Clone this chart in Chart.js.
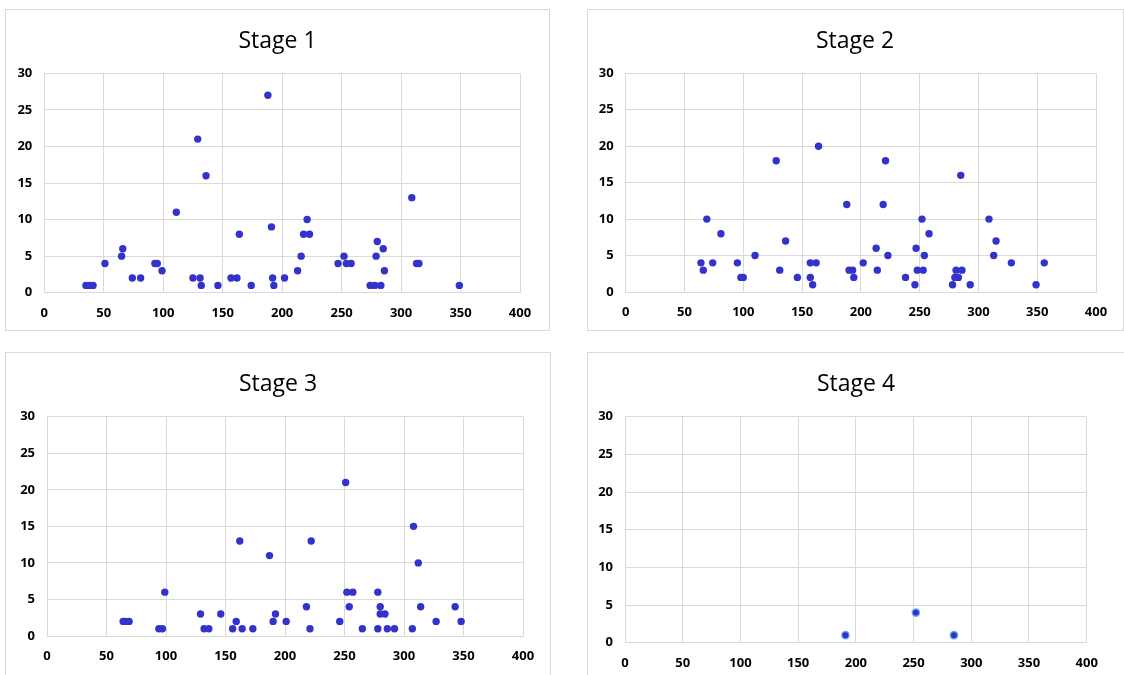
<!DOCTYPE html>
<html>
<head>
<meta charset="utf-8">
<script src="https://cdn.jsdelivr.net/npm/chart.js@4.4.1/dist/chart.umd.min.js"></script>
<style>
  html, body { margin: 0; padding: 0; background: #ffffff; }
  body { width: 1124px; height: 675px; position: relative; overflow: hidden; }
  .panel { position: absolute; border: 1px solid #d9d9d9; background: #fff; box-sizing: border-box; }
  canvas { position: absolute; }
</style>
</head>
<body>
<div class="panel" style="left:5px;top:9px;width:545px;height:322px;"></div>
<div class="panel" style="left:587px;top:9px;width:537px;height:322px;"></div>
<div class="panel" style="left:5px;top:352px;width:546px;height:330px;"></div>
<div class="panel" style="left:587px;top:352px;width:540px;height:330px;"></div>
<canvas id="c1" style="left:6px;top:10px;" width="543" height="320"></canvas>
<canvas id="c2" style="left:588px;top:10px;" width="534" height="320"></canvas>
<canvas id="c3" style="left:6px;top:353px;" width="544" height="322"></canvas>
<canvas id="c4" style="left:588px;top:353px;" width="536" height="322"></canvas>
<script>
// ---- Data ----
const titles = ["Stage 1", "Stage 2", "Stage 3", "Stage 4"];
const xTicks = [0, 50, 100, 150, 200, 250, 300, 350, 400];
const yTicks = [0, 5, 10, 15, 20, 25, 30];

const stage1X = [35, 38, 41, 51, 65, 66, 74, 81, 93, 95, 99, 111, 125, 129, 131, 132, 136, 146, 157, 162, 164, 174, 188, 191, 192, 193, 202, 213, 216, 218, 223, 221, 247, 252, 254, 258, 274, 278, 283, 279, 280, 285, 286, 309, 313, 315, 349];
const stage1Y = [1, 1, 1, 4, 5, 6, 2, 2, 4, 4, 3, 11, 2, 21, 2, 1, 16, 1, 2, 2, 8, 1, 27, 9, 2, 1, 2, 3, 5, 8, 8, 10, 4, 5, 4, 4, 1, 1, 1, 5, 7, 6, 3, 13, 4, 4, 1];

const stage2X = [64, 66, 69, 74, 81, 95, 98, 100, 110, 128, 131, 136, 146, 157, 162, 157, 159, 164, 188, 190, 193, 194, 202, 213, 214, 219, 221, 223, 238, 246, 247, 248, 252, 253, 254, 258, 278, 281, 286, 280, 283, 285, 293, 309, 313, 315, 328, 349, 356];
const stage2Y = [4, 3, 10, 4, 8, 4, 2, 2, 5, 18, 3, 7, 2, 4, 4, 2, 1, 20, 12, 3, 3, 2, 4, 6, 3, 12, 18, 5, 2, 1, 6, 3, 10, 3, 5, 8, 1, 3, 3, 2, 2, 16, 1, 10, 5, 7, 4, 1, 4];

const stage3X = [64, 66, 69, 94, 97, 99, 129, 132, 136, 146, 156, 159, 162, 164, 173, 187, 190, 192, 201, 218, 221, 222, 246, 251, 252, 257, 254, 265, 278, 278, 280, 280, 284, 286, 292, 307, 308, 312, 314, 327, 343, 348];
const stage3Y = [2, 2, 2, 1, 1, 6, 3, 1, 1, 3, 1, 2, 13, 1, 1, 11, 2, 3, 2, 4, 1, 13, 2, 21, 6, 6, 4, 1, 1, 6, 4, 3, 3, 1, 1, 1, 15, 10, 4, 2, 4, 2];

const stage4X = [191, 252, 285];
const stage4Y = [1, 4, 1];

// ---- Helpers ----
function pts(xs, ys) { return xs.map((x, i) => ({ x: x, y: ys[i] })); }

const FONT = "'Open Sans', 'Liberation Sans', sans-serif";

// centre the title block over the whole panel rather than the padded area
const centreTitle = {
  id: 'centreTitle',
  afterLayout(chart) {
    const t = chart.titleBlock;
    if (t) { t.left = 0; t.right = chart.width; t.width = chart.width; }
  }
};

function makeChart(id, title, xs, ys, geo, style) {
  new Chart(document.getElementById(id), {
    type: 'scatter',
    data: {
      datasets: [{
        data: pts(xs, ys),
        backgroundColor: style.bg,
        borderColor: style.border,
        borderWidth: style.bw,
        pointRadius: style.r,
        pointHoverRadius: style.r
      }]
    },
    plugins: [centreTitle],
    options: {
      responsive: false,
      animation: false,
      events: [],
      layout: { padding: { left: 0, right: geo.right, top: 0, bottom: 0 } },
      plugins: {
        legend: { display: false },
        tooltip: { enabled: false },
        title: {
          display: true,
          text: title,
          color: '#000000',
          font: { family: FONT, size: 23, weight: 'normal', lineHeight: 1.2 },
          padding: { top: 17.5, bottom: geo.top - 17.5 - 27.6 }
        }
      },
      scales: {
        x: {
          type: 'linear',
          min: 0, max: 400,
          afterBuildTicks: s => { s.ticks = xTicks.map(v => ({ value: v })); },
          afterFit: s => { s.height = geo.xh; },
          grid: { color: '#d9d9d9', lineWidth: 1, drawTicks: false },
          border: { color: '#d9d9d9' },
          ticks: { color: '#000000', padding: 12.5, maxRotation: 0, font: { family: FONT, size: 13, weight: 'bold' } }
        },
        y: {
          type: 'linear',
          min: 0, max: 30,
          afterBuildTicks: s => { s.ticks = yTicks.map(v => ({ value: v })); },
          afterFit: s => { s.width = geo.left; },
          grid: { color: '#d9d9d9', lineWidth: 1, drawTicks: false },
          border: { color: '#d9d9d9' },
          ticks: { color: '#000000', padding: 12, font: { family: FONT, size: 13, weight: 'bold' } }
        }
      }
    }
  });
}

const dotStyle = { bg: '#3333cc', border: '#3333cc', bw: 0, r: 3.7 };
const dotStyle4 = { bg: '#2436d4', border: 'rgba(110,160,225,0.9)', bw: 1.5, r: 3.6 };

makeChart('c1', titles[0], stage1X, stage1Y, { left: 38.3, right: 29, top: 63.3, xh: 37.3 }, dotStyle);
makeChart('c2', titles[1], stage2X, stage2Y, { left: 37.7, right: 26, top: 63.3, xh: 38 }, dotStyle);
makeChart('c3', titles[2], stage3X, stage3Y, { left: 41, right: 27, top: 63.7, xh: 39 }, dotStyle);
makeChart('c4', titles[3], stage4X, stage4Y, { left: 37, right: 37.3, top: 63.7, xh: 32.3 }, dotStyle4);
</script>
</body>
</html>
